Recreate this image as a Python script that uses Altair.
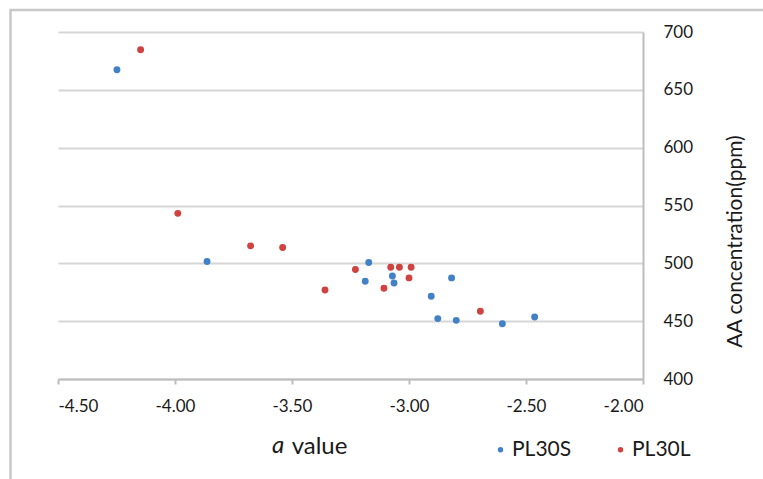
import altair as alt
import pandas as pd

# PL30S (blue)
s_x = [-4.248, -3.863, -3.172, -3.187, -3.071, -3.064, -2.818, -2.905, -2.877, -2.798, -2.601, -2.463]
s_y = [667.3, 501.6, 500.7, 484.5, 489.1, 483.0, 487.4, 471.5, 452.2, 450.7, 447.8, 453.6]
# PL30L (red)
l_x = [-4.147, -3.988, -3.677, -3.540, -3.359, -3.229, -3.107, -3.078, -3.041, -2.991, -3.000, -2.695]
l_y = [684.7, 543.2, 515.1, 513.7, 477.0, 494.6, 478.4, 496.6, 496.6, 496.6, 487.4, 458.5]

series_names = ["PL30S", "PL30L"]
series_colors = ["#4381C6", "#CF4440"]
x_ticks = [-4.5, -4.0, -3.5, -3.0, -2.5, -2.0]
y_ticks = [400, 450, 500, 550, 600, 650, 700]

df = pd.DataFrame({
    "a": s_x + l_x,
    "AA": s_y + l_y,
    "series": [series_names[0]] * len(s_x) + [series_names[1]] * len(l_x),
})

FONT = "Lato"
W, H = 585, 347

points = alt.Chart(df).mark_circle(size=48, opacity=1).encode(
    x=alt.X("a:Q",
            scale=alt.Scale(domain=[-4.5, -2.0], nice=False, zero=False),
            axis=alt.Axis(values=x_ticks, grid=False,
                          labelExpr="(datum.value < 0 ? '-' : '') + format(abs(datum.value), '.2f')",
                          domainColor="#bdbdbd", domainWidth=2,
                          tickColor="#bdbdbd", tickWidth=2, tickSize=5,
                          labelFontSize=17, labelPadding=14, labelColor="#1a1a1a",
                          labelFont=FONT,
                          title="value", titleFont=FONT, titleFontSize=24,
                          titleFontWeight="normal", titleColor="#1a1a1a",
                          titleX=261, titleY=74, titleBaseline="alphabetic",
                          titleAlign="center", titleAnchor="start")),
    y=alt.Y("AA:Q",
            scale=alt.Scale(domain=[400, 700], nice=False, zero=False),
            axis=alt.Axis(orient="right", values=y_ticks, grid=True,
                          gridColor="#d6d6d6", gridWidth=2,
                          domainColor="#bdbdbd", domainWidth=2,
                          ticks=False, labelPadding=20,
                          labelFontSize=17, labelColor="#1a1a1a", labelFont=FONT,
                          labelAlign="left",
                          title="AA concentration(ppm)", titleFont=FONT,
                          titleFontSize=21, titleFontWeight="normal",
                          titleColor="#1a1a1a", titleAngle=270,
                          titleX=92, titleY=209, titleBaseline="middle",
                          titleAlign="center", titleAnchor="start")),
    color=alt.Color("series:N",
                    scale=alt.Scale(domain=series_names, range=series_colors),
                    legend=alt.Legend(title=None, orient="none", direction="horizontal",
                                      legendX=432, legendY=407,
                                      symbolType="circle", symbolSize=30,
                                      symbolStrokeWidth=0, labelOffset=1,
                                      columnPadding=38,
                                      labelFontSize=21, labelFont=FONT,
                                      labelColor="#1a1a1a")),
)

italic_a = alt.Chart(pd.DataFrame({"t": ["a"]})).mark_text(
    fontStyle="italic", font=FONT, fontSize=24, color="#1a1a1a",
    align="center", baseline="alphabetic"
).encode(x=alt.value(220), y=alt.value(421), text="t:N")

frame = alt.Chart(pd.DataFrame({"k": [0]})).mark_rect(
    fill=None, fillOpacity=0, stroke="#c8c8c8", strokeWidth=2.5
).encode(x=alt.value(-47.5), y=alt.value(-22), x2=alt.value(800), y2=alt.value(500))

chart = alt.layer(frame, points, italic_a).properties(
    width=W, height=H,
    autosize=alt.AutoSizeParams(type="none"),
    padding={"left": 58, "top": 32, "right": 120, "bottom": 100},
    background="white",
).configure_view(stroke=None)

chart.save("out.html", embed_options={"renderer": "svg", "actions": False})
